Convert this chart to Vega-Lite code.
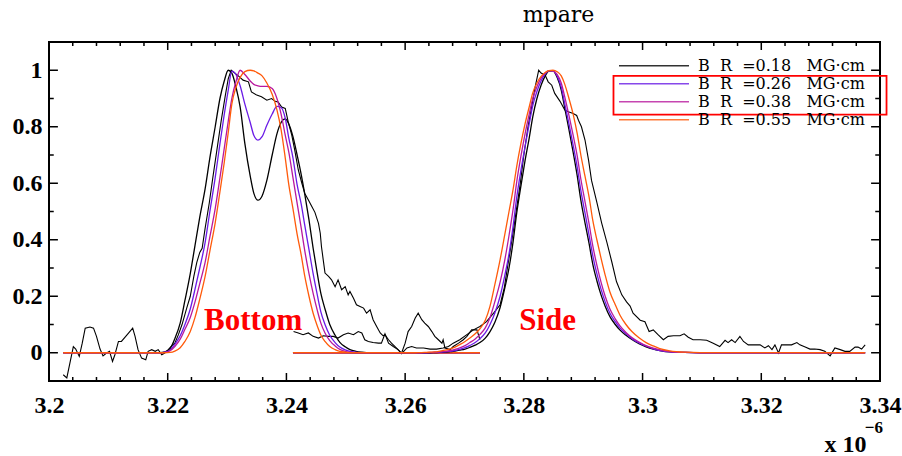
{
  "$schema": "https://vega.github.io/schema/vega-lite/v6.json",
  "width": 831,
  "height": 339,
  "autosize": {"type": "none"},
  "padding": {"left": 49, "top": 42, "right": 22, "bottom": 75},
  "background": "white",
  "config": {
    "view": {"stroke": "black", "strokeWidth": 2},
    "axis": {"domain": false, "grid": false, "ticks": false, "labelColor": "black", "labelFont": "Liberation Serif", "labelFontWeight": "bold", "labelFontSize": 24, "labelOverlap": false, "labelFlush": false, "labelBound": false}
  },
  "title": {"text": "mpare", "frame": "group", "anchor": "middle", "dx": 94, "offset": 14, "font": "DejaVu Serif", "fontSize": 22, "fontWeight": "normal", "color": "black"},
  "datasets": {
    "bottom": [
      {"x":3.2024,"k":0,"p":0,"m":0,"o":0},
      {"x":3.2179,"k":0,"p":0,"m":0,"o":0},
      {"x":3.2187,"k":0,"p":0,"m":0,"o":0},
      {"x":3.2195,"k":0.003,"p":0.002,"m":0.001,"o":0},
      {"x":3.2204,"k":0.015,"p":0.01,"m":0.007,"o":0.001},
      {"x":3.2212,"k":0.05,"p":0.03,"m":0.022,"o":0.006},
      {"x":3.2221,"k":0.105,"p":0.06,"m":0.048,"o":0.018},
      {"x":3.2229,"k":0.185,"p":0.1,"m":0.083,"o":0.04},
      {"x":3.2238,"k":0.28,"p":0.155,"m":0.125,"o":0.075},
      {"x":3.2246,"k":0.38,"p":0.225,"m":0.18,"o":0.125},
      {"x":3.2254,"k":0.48,"p":0.3,"m":0.245,"o":0.19},
      {"x":3.2263,"k":0.58,"p":0.39,"m":0.32,"o":0.27},
      {"x":3.2271,"k":0.69,"p":0.5,"m":0.41,"o":0.36},
      {"x":3.2280,"k":0.8,"p":0.62,"m":0.51,"o":0.46},
      {"x":3.2288,"k":0.9,"p":0.74,"m":0.62,"o":0.57},
      {"x":3.2295,"k":0.96,"p":0.84,"m":0.72,"o":0.67},
      {"x":3.2302,"k":1.0,"p":0.93,"m":0.82,"o":0.78},
      {"x":3.2308,"k":0.99,"p":0.997,"m":0.9,"o":0.88},
      {"x":3.2315,"k":0.94,"p":0.985,"m":0.96,"o":0.94},
      {"x":3.2322,"k":0.87,"p":0.945,"m":1.0,"o":0.975},
      {"x":3.2330,"k":0.74,"p":0.88,"m":0.985,"o":0.995},
      {"x":3.2339,"k":0.625,"p":0.815,"m":0.962,"o":1.0},
      {"x":3.2345,"k":0.565,"p":0.77,"m":0.95,"o":0.998},
      {"x":3.2352,"k":0.54,"p":0.753,"m":0.945,"o":0.99},
      {"x":3.2359,"k":0.555,"p":0.765,"m":0.943,"o":0.98},
      {"x":3.2367,"k":0.61,"p":0.805,"m":0.943,"o":0.955},
      {"x":3.2376,"k":0.7,"p":0.845,"m":0.935,"o":0.915},
      {"x":3.2384,"k":0.775,"p":0.872,"m":0.9,"o":0.86},
      {"x":3.2391,"k":0.815,"p":0.868,"m":0.845,"o":0.79},
      {"x":3.2398,"k":0.828,"p":0.83,"m":0.77,"o":0.69},
      {"x":3.2404,"k":0.81,"p":0.76,"m":0.71,"o":0.595},
      {"x":3.2411,"k":0.765,"p":0.69,"m":0.62,"o":0.51},
      {"x":3.2418,"k":0.7,"p":0.595,"m":0.53,"o":0.42},
      {"x":3.2425,"k":0.63,"p":0.525,"m":0.44,"o":0.345},
      {"x":3.2431,"k":0.56,"p":0.45,"m":0.36,"o":0.27},
      {"x":3.2438,"k":0.47,"p":0.365,"m":0.28,"o":0.2},
      {"x":3.2445,"k":0.37,"p":0.28,"m":0.21,"o":0.14},
      {"x":3.2452,"k":0.28,"p":0.205,"m":0.15,"o":0.095},
      {"x":3.2458,"k":0.21,"p":0.145,"m":0.105,"o":0.063},
      {"x":3.2465,"k":0.155,"p":0.1,"m":0.07,"o":0.04},
      {"x":3.2473,"k":0.1,"p":0.062,"m":0.043,"o":0.022},
      {"x":3.2482,"k":0.062,"p":0.036,"m":0.024,"o":0.011},
      {"x":3.2490,"k":0.037,"p":0.02,"m":0.012,"o":0.005},
      {"x":3.2499,"k":0.021,"p":0.01,"m":0.005,"o":0.002},
      {"x":3.2507,"k":0.011,"p":0.005,"m":0.002,"o":0},
      {"x":3.2517,"k":0.005,"p":0.002,"m":0,"o":0},
      {"x":3.2527,"k":0.002,"p":0,"m":0,"o":0},
      {"x":3.2541,"k":0,"p":0,"m":0,"o":0},
      {"x":3.2726,"k":0,"p":0,"m":0,"o":0}
    ],
    "side": [
      {"x":3.2411,"k":0,"p":0,"m":0,"o":0},
      {"x":3.2617,"k":0,"p":0,"m":0,"o":0},
      {"x":3.2625,"k":0,"p":0,"m":0,"o":0.0005},
      {"x":3.2633,"k":0,"p":0,"m":0.0005,"o":0.001},
      {"x":3.2642,"k":0,"p":0.0005,"m":0.001,"o":0.002},
      {"x":3.2650,"k":0.0005,"p":0.001,"m":0.002,"o":0.003},
      {"x":3.2659,"k":0.001,"p":0.002,"m":0.003,"o":0.006},
      {"x":3.2667,"k":0.002,"p":0.003,"m":0.005,"o":0.009},
      {"x":3.2676,"k":0.004,"p":0.005,"m":0.008,"o":0.014},
      {"x":3.2684,"k":0.006,"p":0.008,"m":0.012,"o":0.02},
      {"x":3.2692,"k":0.009,"p":0.012,"m":0.017,"o":0.029},
      {"x":3.2701,"k":0.013,"p":0.018,"m":0.025,"o":0.04},
      {"x":3.2709,"k":0.019,"p":0.026,"m":0.036,"o":0.052},
      {"x":3.2718,"k":0.027,"p":0.036,"m":0.049,"o":0.067},
      {"x":3.2726,"k":0.036,"p":0.05,"m":0.065,"o":0.085},
      {"x":3.2735,"k":0.052,"p":0.07,"m":0.088,"o":0.115},
      {"x":3.2743,"k":0.075,"p":0.1,"m":0.125,"o":0.165},
      {"x":3.2751,"k":0.107,"p":0.14,"m":0.18,"o":0.24},
      {"x":3.2760,"k":0.16,"p":0.2,"m":0.25,"o":0.33},
      {"x":3.2768,"k":0.23,"p":0.275,"m":0.33,"o":0.42},
      {"x":3.2775,"k":0.3,"p":0.35,"m":0.415,"o":0.5},
      {"x":3.2782,"k":0.395,"p":0.45,"m":0.51,"o":0.58},
      {"x":3.2788,"k":0.495,"p":0.55,"m":0.605,"o":0.66},
      {"x":3.2795,"k":0.59,"p":0.645,"m":0.695,"o":0.74},
      {"x":3.2802,"k":0.68,"p":0.73,"m":0.775,"o":0.81},
      {"x":3.2809,"k":0.76,"p":0.81,"m":0.845,"o":0.87},
      {"x":3.2815,"k":0.835,"p":0.875,"m":0.9,"o":0.92},
      {"x":3.2822,"k":0.9,"p":0.925,"m":0.942,"o":0.955},
      {"x":3.2829,"k":0.947,"p":0.962,"m":0.972,"o":0.978},
      {"x":3.2836,"k":0.98,"p":0.987,"m":0.99,"o":0.992},
      {"x":3.2842,"k":0.997,"p":0.998,"m":0.999,"o":0.999},
      {"x":3.2849,"k":0.998,"p":0.998,"m":0.998,"o":1.0},
      {"x":3.2856,"k":0.975,"p":0.98,"m":0.985,"o":0.995},
      {"x":3.2863,"k":0.93,"p":0.94,"m":0.955,"o":0.98},
      {"x":3.2869,"k":0.865,"p":0.88,"m":0.905,"o":0.95},
      {"x":3.2876,"k":0.79,"p":0.81,"m":0.84,"o":0.9},
      {"x":3.2883,"k":0.71,"p":0.735,"m":0.77,"o":0.845},
      {"x":3.2890,"k":0.625,"p":0.655,"m":0.695,"o":0.775},
      {"x":3.2896,"k":0.54,"p":0.575,"m":0.615,"o":0.7},
      {"x":3.2903,"k":0.46,"p":0.495,"m":0.535,"o":0.625},
      {"x":3.2910,"k":0.385,"p":0.415,"m":0.455,"o":0.55},
      {"x":3.2916,"k":0.315,"p":0.345,"m":0.38,"o":0.47},
      {"x":3.2923,"k":0.255,"p":0.28,"m":0.31,"o":0.4},
      {"x":3.2930,"k":0.205,"p":0.225,"m":0.25,"o":0.335},
      {"x":3.2937,"k":0.165,"p":0.18,"m":0.2,"o":0.275},
      {"x":3.2945,"k":0.128,"p":0.14,"m":0.155,"o":0.215},
      {"x":3.2954,"k":0.1,"p":0.11,"m":0.12,"o":0.17},
      {"x":3.2962,"k":0.08,"p":0.087,"m":0.095,"o":0.133},
      {"x":3.2972,"k":0.062,"p":0.067,"m":0.072,"o":0.1},
      {"x":3.2982,"k":0.047,"p":0.05,"m":0.054,"o":0.075},
      {"x":3.2994,"k":0.032,"p":0.035,"m":0.038,"o":0.053},
      {"x":3.3006,"k":0.021,"p":0.023,"m":0.025,"o":0.036},
      {"x":3.3018,"k":0.013,"p":0.014,"m":0.016,"o":0.024},
      {"x":3.3029,"k":0.008,"p":0.008,"m":0.01,"o":0.015},
      {"x":3.3046,"k":0.003,"p":0.003,"m":0.004,"o":0.007},
      {"x":3.3071,"k":0.001,"p":0.001,"m":0.001,"o":0.002},
      {"x":3.3097,"k":0,"p":0,"m":0,"o":0.0005},
      {"x":3.3375,"k":0,"p":0,"m":0,"o":0}
    ],
    "exp": [
      {"s":"B","x":3.2024,"y":-0.078},{"s":"B","x":3.2030,"y":-0.089},{"s":"B","x":3.2041,"y":0.022},{"s":"B","x":3.2045,"y":0.013},
      {"s":"B","x":3.2051,"y":-0.013},{"s":"B","x":3.2056,"y":0.034},{"s":"B","x":3.2061,"y":0.087},{"s":"B","x":3.2069,"y":0.091},
      {"s":"B","x":3.2075,"y":0.087},{"s":"B","x":3.2080,"y":0.058},{"s":"B","x":3.2086,"y":0.013},{"s":"B","x":3.2091,"y":-0.011},
      {"s":"B","x":3.2097,"y":-0.001},{"s":"B","x":3.2102,"y":0.005},{"s":"B","x":3.2107,"y":-0.031},{"s":"B","x":3.2111,"y":-0.007},
      {"s":"B","x":3.2117,"y":0.04},{"s":"B","x":3.2122,"y":0.04},{"s":"B","x":3.2130,"y":0.06},{"s":"B","x":3.2135,"y":0.072},
      {"s":"B","x":3.2141,"y":0.087},{"s":"B","x":3.2145,"y":0.058},{"s":"B","x":3.2150,"y":0.011},{"s":"B","x":3.2156,"y":-0.019},
      {"s":"B","x":3.2163,"y":-0.025},{"s":"B","x":3.2167,"y":0.005},{"s":"B","x":3.2173,"y":0.011},{"s":"B","x":3.2179,"y":0.005},
      {"s":"B","x":3.2184,"y":0.011},{"s":"B","x":3.2190,"y":-0.007},{"s":"B","x":3.2195,"y":-0.001},{"s":"B","x":3.2201,"y":0.011},
      {"s":"B","x":3.2207,"y":0.025},{"s":"B","x":3.2212,"y":0.034},{"s":"B","x":3.2218,"y":0.064},{"s":"B","x":3.2224,"y":0.099},
      {"s":"B","x":3.2232,"y":0.158},{"s":"B","x":3.2238,"y":0.2},{"s":"B","x":3.2244,"y":0.27},{"s":"B","x":3.2249,"y":0.32},
      {"s":"B","x":3.2254,"y":0.355},{"s":"B","x":3.2258,"y":0.37},{"s":"B","x":3.2263,"y":0.44},{"s":"B","x":3.2270,"y":0.53},
      {"s":"B","x":3.2276,"y":0.62},{"s":"B","x":3.2283,"y":0.72},{"s":"B","x":3.2290,"y":0.82},{"s":"B","x":3.2297,"y":0.91},
      {"s":"B","x":3.2302,"y":0.97},{"s":"B","x":3.2307,"y":1.0},{"s":"B","x":3.2313,"y":0.99},{"s":"B","x":3.2319,"y":0.98},
      {"s":"B","x":3.2327,"y":0.965},{"s":"B","x":3.2336,"y":0.959},{"s":"B","x":3.2341,"y":0.923},{"s":"B","x":3.2350,"y":0.912},
      {"s":"B","x":3.2358,"y":0.906},{"s":"B","x":3.2367,"y":0.894},{"s":"B","x":3.2375,"y":0.9},{"s":"B","x":3.2381,"y":0.89},
      {"s":"B","x":3.2386,"y":0.888},{"s":"B","x":3.2392,"y":0.87},{"s":"B","x":3.2398,"y":0.865},{"s":"B","x":3.2403,"y":0.817},
      {"s":"B","x":3.2409,"y":0.77},{"s":"B","x":3.2414,"y":0.717},{"s":"B","x":3.2420,"y":0.647},{"s":"B","x":3.2426,"y":0.6},
      {"s":"B","x":3.2431,"y":0.564},{"s":"B","x":3.2437,"y":0.541},{"s":"B","x":3.2443,"y":0.517},{"s":"B","x":3.2448,"y":0.497},
      {"s":"B","x":3.2454,"y":0.458},{"s":"B","x":3.2457,"y":0.423},{"s":"B","x":3.2459,"y":0.376},{"s":"B","x":3.2462,"y":0.329},
      {"s":"B","x":3.2465,"y":0.282},{"s":"B","x":3.2471,"y":0.27},{"s":"B","x":3.2476,"y":0.258},{"s":"B","x":3.2482,"y":0.234},
      {"s":"B","x":3.2487,"y":0.258},{"s":"B","x":3.2493,"y":0.223},{"s":"B","x":3.2499,"y":0.234},{"s":"B","x":3.2504,"y":0.205},
      {"s":"B","x":3.2507,"y":0.217},{"s":"B","x":3.2513,"y":0.193},{"s":"B","x":3.2518,"y":0.17},{"s":"B","x":3.2524,"y":0.164},
      {"s":"B","x":3.2530,"y":0.158},{"s":"B","x":3.2535,"y":0.14},{"s":"B","x":3.2541,"y":0.152},{"s":"B","x":3.2546,"y":0.117},
      {"s":"B","x":3.2552,"y":0.093},{"s":"B","x":3.2558,"y":0.07},{"s":"B","x":3.2563,"y":0.06},{"s":"B","x":3.2566,"y":0.064},
      {"s":"B","x":3.2572,"y":0.046},{"s":"B","x":3.2577,"y":0.034},{"s":"B","x":3.2583,"y":0.022},{"s":"B","x":3.2588,"y":0.011},
      {"s":"B","x":3.2594,"y":-0.001},{"s":"B","x":3.2600,"y":0.034},{"s":"B","x":3.2605,"y":0.075},{"s":"B","x":3.2611,"y":0.093},
      {"s":"B","x":3.2617,"y":0.123},{"s":"B","x":3.2622,"y":0.14},{"s":"B","x":3.2628,"y":0.117},{"s":"B","x":3.2633,"y":0.105},
      {"s":"B","x":3.2639,"y":0.093},{"s":"B","x":3.2645,"y":0.075},{"s":"B","x":3.2650,"y":0.058},{"s":"B","x":3.2656,"y":0.046},
      {"s":"B","x":3.2662,"y":0.034},{"s":"B","x":3.2664,"y":0.046},{"s":"B","x":3.2667,"y":0.017},{"s":"B","x":3.2676,"y":0.011},
      {"s":"B","x":3.2681,"y":0.022},{"s":"B","x":3.2690,"y":0.034},{"s":"B","x":3.2698,"y":0.046},{"s":"B","x":3.2704,"y":0.058},
      {"s":"B","x":3.2712,"y":0.081},{"s":"B","x":3.2721,"y":0.081},{"s":"B","x":3.2726,"y":0.046},
      {"s":"S","x":3.2412,"y":0.075},{"s":"S","x":3.2420,"y":0.07},{"s":"S","x":3.2428,"y":0.064},{"s":"S","x":3.2437,"y":0.07},
      {"s":"S","x":3.2445,"y":0.058},{"s":"S","x":3.2454,"y":0.052},{"s":"S","x":3.2462,"y":0.06},{"s":"S","x":3.2471,"y":0.058},
      {"s":"S","x":3.2479,"y":0.058},{"s":"S","x":3.2487,"y":0.052},{"s":"S","x":3.2496,"y":0.064},{"s":"S","x":3.2504,"y":0.07},
      {"s":"S","x":3.2513,"y":0.064},{"s":"S","x":3.2521,"y":0.075},{"s":"S","x":3.2527,"y":0.07},{"s":"S","x":3.2532,"y":0.046},
      {"s":"S","x":3.2538,"y":0.04},{"s":"S","x":3.2546,"y":0.036},{"s":"S","x":3.2555,"y":0.034},{"s":"S","x":3.2560,"y":0.034},
      {"s":"S","x":3.2566,"y":0.067},{"s":"S","x":3.2572,"y":0.034},{"s":"S","x":3.2580,"y":0.022},{"s":"S","x":3.2588,"y":0.011},
      {"s":"S","x":3.2594,"y":-0.003},{"s":"S","x":3.2603,"y":0.017},{"s":"S","x":3.2611,"y":0.022},{"s":"S","x":3.2619,"y":0.017},
      {"s":"S","x":3.2631,"y":0.017},{"s":"S","x":3.2642,"y":0.013},{"s":"S","x":3.2653,"y":0.013},{"s":"S","x":3.2664,"y":0.017},
      {"s":"S","x":3.2673,"y":0.022},{"s":"S","x":3.2681,"y":0.034},{"s":"S","x":3.2692,"y":0.046},{"s":"S","x":3.2704,"y":0.064},
      {"s":"S","x":3.2715,"y":0.081},{"s":"S","x":3.2726,"y":0.093},{"s":"S","x":3.2737,"y":0.11},{"s":"S","x":3.2749,"y":0.14},
      {"s":"S","x":3.2760,"y":0.17},{"s":"S","x":3.2767,"y":0.23},{"s":"S","x":3.2773,"y":0.31},{"s":"S","x":3.2780,"y":0.4},
      {"s":"S","x":3.2787,"y":0.5},{"s":"S","x":3.2794,"y":0.6},{"s":"S","x":3.2800,"y":0.7},{"s":"S","x":3.2807,"y":0.8},
      {"s":"S","x":3.2814,"y":0.88},{"s":"S","x":3.2819,"y":0.94},{"s":"S","x":3.2825,"y":1.0},{"s":"S","x":3.2829,"y":0.99},
      {"s":"S","x":3.2836,"y":0.982},{"s":"S","x":3.2841,"y":0.959},{"s":"S","x":3.2847,"y":0.947},{"s":"S","x":3.2852,"y":0.918},
      {"s":"S","x":3.2861,"y":0.89},{"s":"S","x":3.2869,"y":0.859},{"s":"S","x":3.2875,"y":0.853},{"s":"S","x":3.2883,"y":0.847},
      {"s":"S","x":3.2889,"y":0.84},{"s":"S","x":3.2892,"y":0.823},{"s":"S","x":3.2897,"y":0.8},{"s":"S","x":3.2903,"y":0.753},
      {"s":"S","x":3.2909,"y":0.682},{"s":"S","x":3.2914,"y":0.61},{"s":"S","x":3.2923,"y":0.532},{"s":"S","x":3.2931,"y":0.46},
      {"s":"S","x":3.2940,"y":0.39},{"s":"S","x":3.2948,"y":0.323},{"s":"S","x":3.2956,"y":0.252},{"s":"S","x":3.2965,"y":0.205},
      {"s":"S","x":3.2973,"y":0.18},{"s":"S","x":3.2979,"y":0.165},{"s":"S","x":3.2984,"y":0.14},{"s":"S","x":3.2996,"y":0.115},
      {"s":"S","x":3.3004,"y":0.11},{"s":"S","x":3.3011,"y":0.075},{"s":"S","x":3.3018,"y":0.081},{"s":"S","x":3.3026,"y":0.064},
      {"s":"S","x":3.3035,"y":0.046},{"s":"S","x":3.3043,"y":0.058},{"s":"S","x":3.3052,"y":0.06},{"s":"S","x":3.3063,"y":0.06},
      {"s":"S","x":3.3070,"y":0.067},{"s":"S","x":3.3077,"y":0.055},{"s":"S","x":3.3085,"y":0.046},{"s":"S","x":3.3097,"y":0.046},
      {"s":"S","x":3.3108,"y":0.044},{"s":"S","x":3.3119,"y":0.034},{"s":"S","x":3.3130,"y":0.022},{"s":"S","x":3.3139,"y":0.044},
      {"s":"S","x":3.3144,"y":0.036},{"s":"S","x":3.3150,"y":0.046},{"s":"S","x":3.3156,"y":0.036},{"s":"S","x":3.3164,"y":0.058},
      {"s":"S","x":3.3170,"y":0.04},{"s":"S","x":3.3178,"y":0.028},{"s":"S","x":3.3187,"y":0.028},{"s":"S","x":3.3198,"y":0.028},
      {"s":"S","x":3.3206,"y":0.017},{"s":"S","x":3.3212,"y":0.025},{"s":"S","x":3.3218,"y":0.011},{"s":"S","x":3.3223,"y":0.028},
      {"s":"S","x":3.3229,"y":-0.001},{"s":"S","x":3.3234,"y":0.028},{"s":"S","x":3.3243,"y":0.028},{"s":"S","x":3.3251,"y":0.028},
      {"s":"S","x":3.3260,"y":0.036},{"s":"S","x":3.3265,"y":0.028},{"s":"S","x":3.3274,"y":0.02},{"s":"S","x":3.3282,"y":0.013},
      {"s":"S","x":3.3290,"y":0.013},{"s":"S","x":3.3299,"y":0.011},{"s":"S","x":3.3307,"y":0.005},{"s":"S","x":3.3316,"y":-0.011},
      {"s":"S","x":3.3324,"y":0.017},{"s":"S","x":3.3333,"y":0.011},{"s":"S","x":3.3341,"y":0.005},{"s":"S","x":3.3349,"y":0.005},
      {"s":"S","x":3.3358,"y":0.02},{"s":"S","x":3.3363,"y":0.02},{"s":"S","x":3.3369,"y":0.013},{"s":"S","x":3.3375,"y":0.028}
    ],
    "labels": [
      {"t":"Bottom","x":3.2344,"y":0.081},
      {"t":"Side","x":3.2840,"y":0.081}
    ],
    "expo": [
      {"t":"−6","x":3.3405,"y":-0.283}
    ],
    "box": [
      {"x":3.2951,"x2":3.3411,"y":0.98,"y2":0.843}
    ],
    "ticks": [
      {"x":3.22,"x2":3.22,"y":-0.1,"y2":-0.0717},{"x":3.24,"x2":3.24,"y":-0.1,"y2":-0.0717},{"x":3.26,"x2":3.26,"y":-0.1,"y2":-0.0717},
      {"x":3.28,"x2":3.28,"y":-0.1,"y2":-0.0717},{"x":3.3,"x2":3.3,"y":-0.1,"y2":-0.0717},{"x":3.32,"x2":3.32,"y":-0.1,"y2":-0.0717},
      {"x":3.22,"x2":3.22,"y":1.1,"y2":1.0717},{"x":3.24,"x2":3.24,"y":1.1,"y2":1.0717},{"x":3.26,"x2":3.26,"y":1.1,"y2":1.0717},
      {"x":3.28,"x2":3.28,"y":1.1,"y2":1.0717},{"x":3.3,"x2":3.3,"y":1.1,"y2":1.0717},{"x":3.32,"x2":3.32,"y":1.1,"y2":1.0717},
      {"x":3.204,"x2":3.204,"y":-0.1,"y2":-0.0858},{"x":3.208,"x2":3.208,"y":-0.1,"y2":-0.0858},{"x":3.212,"x2":3.212,"y":-0.1,"y2":-0.0858},{"x":3.216,"x2":3.216,"y":-0.1,"y2":-0.0858},
      {"x":3.224,"x2":3.224,"y":-0.1,"y2":-0.0858},{"x":3.228,"x2":3.228,"y":-0.1,"y2":-0.0858},{"x":3.232,"x2":3.232,"y":-0.1,"y2":-0.0858},{"x":3.236,"x2":3.236,"y":-0.1,"y2":-0.0858},
      {"x":3.244,"x2":3.244,"y":-0.1,"y2":-0.0858},{"x":3.248,"x2":3.248,"y":-0.1,"y2":-0.0858},{"x":3.252,"x2":3.252,"y":-0.1,"y2":-0.0858},{"x":3.256,"x2":3.256,"y":-0.1,"y2":-0.0858},
      {"x":3.264,"x2":3.264,"y":-0.1,"y2":-0.0858},{"x":3.268,"x2":3.268,"y":-0.1,"y2":-0.0858},{"x":3.272,"x2":3.272,"y":-0.1,"y2":-0.0858},{"x":3.276,"x2":3.276,"y":-0.1,"y2":-0.0858},
      {"x":3.284,"x2":3.284,"y":-0.1,"y2":-0.0858},{"x":3.288,"x2":3.288,"y":-0.1,"y2":-0.0858},{"x":3.292,"x2":3.292,"y":-0.1,"y2":-0.0858},{"x":3.296,"x2":3.296,"y":-0.1,"y2":-0.0858},
      {"x":3.304,"x2":3.304,"y":-0.1,"y2":-0.0858},{"x":3.308,"x2":3.308,"y":-0.1,"y2":-0.0858},{"x":3.312,"x2":3.312,"y":-0.1,"y2":-0.0858},{"x":3.316,"x2":3.316,"y":-0.1,"y2":-0.0858},
      {"x":3.324,"x2":3.324,"y":-0.1,"y2":-0.0858},{"x":3.328,"x2":3.328,"y":-0.1,"y2":-0.0858},{"x":3.332,"x2":3.332,"y":-0.1,"y2":-0.0858},{"x":3.336,"x2":3.336,"y":-0.1,"y2":-0.0858},
      {"x":3.204,"x2":3.204,"y":1.1,"y2":1.0858},{"x":3.208,"x2":3.208,"y":1.1,"y2":1.0858},{"x":3.212,"x2":3.212,"y":1.1,"y2":1.0858},{"x":3.216,"x2":3.216,"y":1.1,"y2":1.0858},
      {"x":3.224,"x2":3.224,"y":1.1,"y2":1.0858},{"x":3.228,"x2":3.228,"y":1.1,"y2":1.0858},{"x":3.232,"x2":3.232,"y":1.1,"y2":1.0858},{"x":3.236,"x2":3.236,"y":1.1,"y2":1.0858},
      {"x":3.244,"x2":3.244,"y":1.1,"y2":1.0858},{"x":3.248,"x2":3.248,"y":1.1,"y2":1.0858},{"x":3.252,"x2":3.252,"y":1.1,"y2":1.0858},{"x":3.256,"x2":3.256,"y":1.1,"y2":1.0858},
      {"x":3.264,"x2":3.264,"y":1.1,"y2":1.0858},{"x":3.268,"x2":3.268,"y":1.1,"y2":1.0858},{"x":3.272,"x2":3.272,"y":1.1,"y2":1.0858},{"x":3.276,"x2":3.276,"y":1.1,"y2":1.0858},
      {"x":3.284,"x2":3.284,"y":1.1,"y2":1.0858},{"x":3.288,"x2":3.288,"y":1.1,"y2":1.0858},{"x":3.292,"x2":3.292,"y":1.1,"y2":1.0858},{"x":3.296,"x2":3.296,"y":1.1,"y2":1.0858},
      {"x":3.304,"x2":3.304,"y":1.1,"y2":1.0858},{"x":3.308,"x2":3.308,"y":1.1,"y2":1.0858},{"x":3.312,"x2":3.312,"y":1.1,"y2":1.0858},{"x":3.316,"x2":3.316,"y":1.1,"y2":1.0858},
      {"x":3.324,"x2":3.324,"y":1.1,"y2":1.0858},{"x":3.328,"x2":3.328,"y":1.1,"y2":1.0858},{"x":3.332,"x2":3.332,"y":1.1,"y2":1.0858},{"x":3.336,"x2":3.336,"y":1.1,"y2":1.0858},
      {"x":3.2,"x2":3.2015,"y":0,"y2":0},{"x":3.2,"x2":3.2015,"y":0.2,"y2":0.2},{"x":3.2,"x2":3.2015,"y":0.4,"y2":0.4},
      {"x":3.2,"x2":3.2015,"y":0.6,"y2":0.6},{"x":3.2,"x2":3.2015,"y":0.8,"y2":0.8},{"x":3.2,"x2":3.2015,"y":1,"y2":1},
      {"x":3.34,"x2":3.3385,"y":0,"y2":0},{"x":3.34,"x2":3.3385,"y":0.2,"y2":0.2},{"x":3.34,"x2":3.3385,"y":0.4,"y2":0.4},
      {"x":3.34,"x2":3.3385,"y":0.6,"y2":0.6},{"x":3.34,"x2":3.3385,"y":0.8,"y2":0.8},{"x":3.34,"x2":3.3385,"y":1,"y2":1},
      {"x":3.2,"x2":3.2008,"y":0.1,"y2":0.1},{"x":3.2,"x2":3.2008,"y":0.3,"y2":0.3},{"x":3.2,"x2":3.2008,"y":0.5,"y2":0.5},
      {"x":3.2,"x2":3.2008,"y":0.7,"y2":0.7},{"x":3.2,"x2":3.2008,"y":0.9,"y2":0.9},
      {"x":3.34,"x2":3.3392,"y":0.1,"y2":0.1},{"x":3.34,"x2":3.3392,"y":0.3,"y2":0.3},{"x":3.34,"x2":3.3392,"y":0.5,"y2":0.5},
      {"x":3.34,"x2":3.3392,"y":0.7,"y2":0.7},{"x":3.34,"x2":3.3392,"y":0.9,"y2":0.9}
    ]
  },
  "layer": [
    {
      "data": {"name": "exp"},
      "mark": {"type": "line", "color": "black", "strokeWidth": 1.1, "clip": true},
      "encoding": {
        "x": {"field": "x", "type": "quantitative", "scale": {"domain": [3.2, 3.34], "nice": false, "zero": false},
              "axis": {"orient": "bottom", "values": [3.2,3.22,3.24,3.26,3.28,3.3,3.32,3.34], "format": "~g", "ticks": false, "labelPadding": 12,
                       "labelFont": "Liberation Serif", "labelFontWeight": "bold", "labelFontSize": 24,
                       "title": "x 10", "titleX": 817, "titleY": 70, "titleAlign": "right", "titleBaseline": "alphabetic", "titleAngle": 0,
                       "titleFont": "Liberation Serif", "titleFontWeight": "bold", "titleFontSize": 24, "titleColor": "black"}},
        "y": {"field": "y", "type": "quantitative", "scale": {"domain": [-0.1, 1.1], "nice": false, "zero": false},
              "axis": {"orient": "left", "values": [0,0.2,0.4,0.6,0.8,1], "format": "~g", "ticks": false, "labelPadding": 7,
                       "labelFont": "Liberation Serif", "labelFontWeight": "bold", "labelFontSize": 24, "title": null}},
        "detail": {"field": "s", "type": "nominal"}
      }
    },
    {
      "data": {"name": "ticks"},
      "mark": {"type": "rect", "fill": "transparent", "stroke": "black", "strokeWidth": 1.5},
      "encoding": {
        "x": {"field": "x", "type": "quantitative"},
        "x2": {"field": "x2"},
        "y": {"field": "y", "type": "quantitative"},
        "y2": {"field": "y2"}
      }
    },
    {
      "data": {"name": "bottom"},
      "transform": [{"fold": ["k","p","m","o"], "as": ["series","y"]}],
      "mark": {"type": "line", "strokeWidth": 1.3, "interpolate": "monotone"},
      "encoding": {
        "x": {"field": "x", "type": "quantitative"},
        "y": {"field": "y", "type": "quantitative"},
        "color": {"field": "series", "type": "nominal",
                  "scale": {"domain": ["k","p","m","o"], "range": ["#000000","#6a1be6","#b8189e","#ff5a0a"]},
                  "legend": {"orient": "none", "legendX": 569, "legendY": 15, "title": null, "symbolType": "stroke", "symbolSize": 4900,
                             "symbolStrokeWidth": 1.5, "symbolOpacity": 0.8, "clipHeight": 17.5, "rowPadding": -0.5, "padding": 0,
                             "labelFont": "DejaVu Serif", "labelFontSize": 16, "labelOffset": 8, "labelLimit": 0, "labelColor": "black",
                             "labelExpr": "datum.label=='k'?'B\u00a0\u00a0R\u00a0\u00a0=0.18\u00a0\u00a0\u00a0MG·cm':datum.label=='p'?'B\u00a0\u00a0R\u00a0\u00a0=0.26\u00a0\u00a0\u00a0MG·cm':datum.label=='m'?'B\u00a0\u00a0R\u00a0\u00a0=0.38\u00a0\u00a0\u00a0MG·cm':'B\u00a0\u00a0R\u00a0\u00a0=0.55\u00a0\u00a0\u00a0MG·cm'"}}
      }
    },
    {
      "data": {"name": "side"},
      "transform": [{"fold": ["k","p","m","o"], "as": ["series","y"]}],
      "mark": {"type": "line", "strokeWidth": 1.3, "interpolate": "monotone"},
      "encoding": {
        "x": {"field": "x", "type": "quantitative"},
        "y": {"field": "y", "type": "quantitative"},
        "color": {"field": "series", "type": "nominal"}
      }
    },
    {
      "data": {"name": "labels"},
      "mark": {"type": "text", "color": "#ff0000", "font": "Liberation Serif", "fontWeight": "bold", "fontSize": 31, "align": "center", "baseline": "alphabetic"},
      "encoding": {
        "x": {"field": "x", "type": "quantitative"},
        "y": {"field": "y", "type": "quantitative"},
        "text": {"field": "t", "type": "nominal"}
      }
    },
    {
      "data": {"name": "expo"},
      "mark": {"type": "text", "color": "black", "font": "Liberation Serif", "fontWeight": "bold", "fontSize": 17, "align": "right", "baseline": "alphabetic"},
      "encoding": {
        "x": {"field": "x", "type": "quantitative"},
        "y": {"field": "y", "type": "quantitative"},
        "text": {"field": "t", "type": "nominal"}
      }
    },
    {
      "data": {"name": "box"},
      "mark": {"type": "rect", "fill": "transparent", "stroke": "#ff0000", "strokeWidth": 1.8},
      "encoding": {
        "x": {"field": "x", "type": "quantitative"},
        "x2": {"field": "x2"},
        "y": {"field": "y", "type": "quantitative"},
        "y2": {"field": "y2"}
      }
    }
  ]
}
